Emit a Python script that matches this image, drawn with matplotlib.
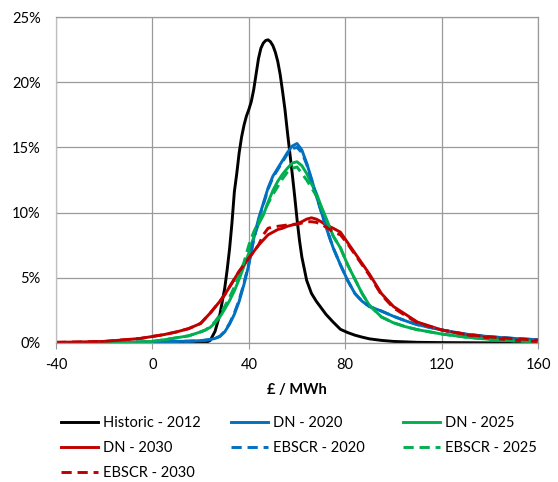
import matplotlib
matplotlib.use("Agg")
import matplotlib.pyplot as plt
from matplotlib.ticker import FuncFormatter
from matplotlib.lines import Line2D

plt.rcParams['font.family'] = ['Lato', 'DejaVu Sans']
plt.rcParams['axes.unicode_minus'] = False

# price bins (GBP/MWh) and share of hours (%) per scenario
price = [-40, -30, -20, -10, -5, 0, 5, 10, 15, 20, 22, 24, 26, 28, 30, 32, 34, 36,
         38, 40, 42, 44, 46, 48, 50, 52, 54, 56, 58, 60, 62, 64, 66, 68, 70, 72,
         75, 78, 81, 84, 87, 90, 95, 100, 105, 110, 120, 130, 140, 150, 160]

# the 2012 outturn is sampled more finely around its sharp peak
price_hist = [-40, 0, 20, 22, 24, 26, 28, 30, 31, 32, 33, 34, 35, 36, 37, 38, 39, 40, 41, 42,
              43, 44, 45, 46, 47, 48, 49, 50, 51, 52, 53, 54, 55, 56, 57, 58, 59, 60, 61, 62,
              64, 66, 68, 70, 72, 75, 78, 81, 84, 87, 90, 95, 100, 110, 120, 140, 160]
historic_2012 = [0, 0, 0, 0.02, 0.2, 0.9, 2.2, 4.2, 5.6, 7.2, 9.2, 11.6, 13.0, 14.6, 15.8, 16.7, 17.4, 17.9, 18.5, 19.4,
                 20.6, 21.8, 22.6, 23.0, 23.2, 23.25, 23.1, 22.8, 22.3, 21.6, 20.6, 19.3, 17.9, 16.2, 14.6, 13.0, 11.3, 9.5, 7.9, 6.6,
                 4.8, 3.8, 3.2, 2.7, 2.2, 1.6, 1.05, 0.8, 0.6, 0.45, 0.32, 0.2, 0.12, 0.05, 0.03, 0.01, 0.0]

dn_2020 = [0.02, 0.03, 0.04, 0.05, 0.06, 0.08, 0.1, 0.12, 0.14, 0.18, 0.22, 0.27, 0.35, 0.5, 0.85, 1.45, 2.2, 3.2,
           4.5, 6.0, 8.0, 9.5, 10.7, 11.9, 12.8, 13.4, 14.0, 14.6, 15.1, 15.3, 14.8, 13.8, 12.6, 11.3, 10.1, 8.9,
           7.3, 6.0, 4.8, 3.8, 3.2, 2.8, 2.45, 2.05, 1.7, 1.4, 1.0, 0.68, 0.48, 0.35, 0.25]

dn_2025 = [0.01, 0.02, 0.03, 0.05, 0.08, 0.12, 0.25, 0.4, 0.55, 0.85, 1.0, 1.2, 1.55, 2.0, 2.6, 3.25, 4.0, 4.9,
           5.9, 6.9, 8.1, 9.1, 9.8, 10.8, 11.7, 12.4, 12.95, 13.4, 13.8, 13.9, 13.6, 13.0, 12.2, 11.5, 10.5, 9.6,
           8.2, 7.3, 6.0, 4.9, 3.8, 2.9, 2.0, 1.55, 1.25, 1.02, 0.69, 0.45, 0.28, 0.17, 0.1]

dn_2030 = [0.05, 0.08, 0.12, 0.27, 0.35, 0.5, 0.65, 0.85, 1.1, 1.5, 1.9, 2.3, 2.75, 3.2, 3.7, 4.3, 4.9, 5.5,
           6.0, 6.5, 7.0, 7.5, 7.9, 8.3, 8.5, 8.7, 8.8, 8.95, 9.05, 9.15, 9.3, 9.5, 9.6, 9.5, 9.3, 9.05,
           8.8, 8.5, 7.7, 6.9, 6.1, 5.3, 3.8, 2.8, 2.2, 1.6, 1.0, 0.63, 0.38, 0.22, 0.1]

ebscr_2020 = [0.02, 0.03, 0.04, 0.05, 0.06, 0.08, 0.1, 0.12, 0.14, 0.18, 0.22, 0.27, 0.35, 0.52, 0.9, 1.5, 2.3, 3.3,
              4.6, 6.1, 7.9, 9.4, 10.6, 11.8, 12.7, 13.3, 13.9, 14.5, 14.9, 15.0, 14.6, 13.7, 12.5, 11.3, 10.1, 8.9,
              7.3, 6.0, 4.8, 3.8, 3.2, 2.8, 2.45, 2.05, 1.7, 1.4, 1.0, 0.68, 0.48, 0.35, 0.25]

ebscr_2025 = [0.01, 0.02, 0.03, 0.05, 0.08, 0.12, 0.25, 0.4, 0.55, 0.85, 1.0, 1.25, 1.65, 2.15, 2.8, 3.5, 4.3, 5.2,
              6.2, 7.5, 8.5, 9.3, 10.0, 10.7, 11.4, 12.0, 12.6, 13.1, 13.4, 13.5, 13.0, 12.5, 11.9, 11.3, 10.4, 9.5,
              8.2, 7.3, 6.0, 4.9, 3.8, 2.9, 2.0, 1.55, 1.25, 1.02, 0.69, 0.45, 0.28, 0.17, 0.1]

ebscr_2030 = [0.05, 0.08, 0.12, 0.27, 0.35, 0.5, 0.65, 0.85, 1.1, 1.5, 1.9, 2.3, 2.75, 3.2, 3.7, 4.3, 4.9, 5.5,
              6.0, 6.5, 7.0, 7.5, 8.3, 8.8, 8.9, 8.95, 9.0, 9.05, 9.1, 9.1, 9.2, 9.3, 9.3, 9.25, 9.1, 8.9,
              8.5, 8.3, 7.6, 6.8, 6.0, 5.2, 3.7, 2.7, 2.1, 1.55, 1.0, 0.66, 0.46, 0.33, 0.22]

black = '#000000'
blue = '#0070C0'
green = '#00B050'
red = '#C00000'
dash = (0, (3.5, 2.0))
lw = 2.1

fig = plt.figure(figsize=(5.58, 4.82), dpi=100)
ax = fig.add_axes([0.1004, 0.2884, 0.8638, 0.6763])

kw = dict(lw=lw, solid_joinstyle='round', dash_joinstyle='round')
ax.plot(price_hist, historic_2012, color=black, **kw)
ax.plot(price, dn_2020, color=blue, **kw)
ax.plot(price, dn_2025, color=green, **kw)
ax.plot(price, dn_2030, color=red, **kw)
ax.plot(price, ebscr_2020, color=blue, ls=dash, **kw)
ax.plot(price, ebscr_2025, color=green, ls=dash, **kw)
ax.plot(price, ebscr_2030, color=red, ls=dash, **kw)

ax.set_xlim(-40, 160)
ax.set_ylim(0, 25)
ax.set_xticks(range(-40, 161, 40))
ax.set_yticks(range(0, 26, 5))
ax.yaxis.set_major_formatter(FuncFormatter(lambda v, p: '%d%%' % v))
ax.grid(True, color='#9a9a9a', lw=0.9)
ax.set_axisbelow(True)
for s in ax.spines.values():
    s.set_color('#9a9a9a')
    s.set_linewidth(0.9)
ax.spines['left'].set_color('#bfbfbf')
ax.tick_params(axis='x', length=4, color='#9a9a9a', labelsize=10.5, pad=7)
ax.tick_params(axis='y', length=0, labelsize=10.5, pad=11)
ax.set_xlabel('£ / MWh', fontsize=10.5, fontweight='bold', labelpad=8)

# legend laid out as three separate columns
cols = [
    [('Historic - 2012', black, '-'), ('DN - 2030', red, '-'), ('EBSCR - 2030', red, dash)],
    [('DN - 2020', blue, '-'), ('EBSCR - 2020', blue, dash)],
    [('DN - 2025', green, '-'), ('EBSCR - 2025', green, dash)],
]
col_x = [61, 231, 403]
for cx, items in zip(col_x, cols):
    handles = [Line2D([], [], color=c, lw=lw, ls=st) for _, c, st in items]
    fig.legend(handles, [t for t, _, _ in items], loc='upper left',
               bbox_to_anchor=(cx / 558, 1 - 416 / 482), frameon=False,
               fontsize=10.5, handlelength=2.55, handletextpad=0.3,
               labelspacing=0.76, borderpad=0, borderaxespad=0)

fig.savefig('out.png', dpi=100)
